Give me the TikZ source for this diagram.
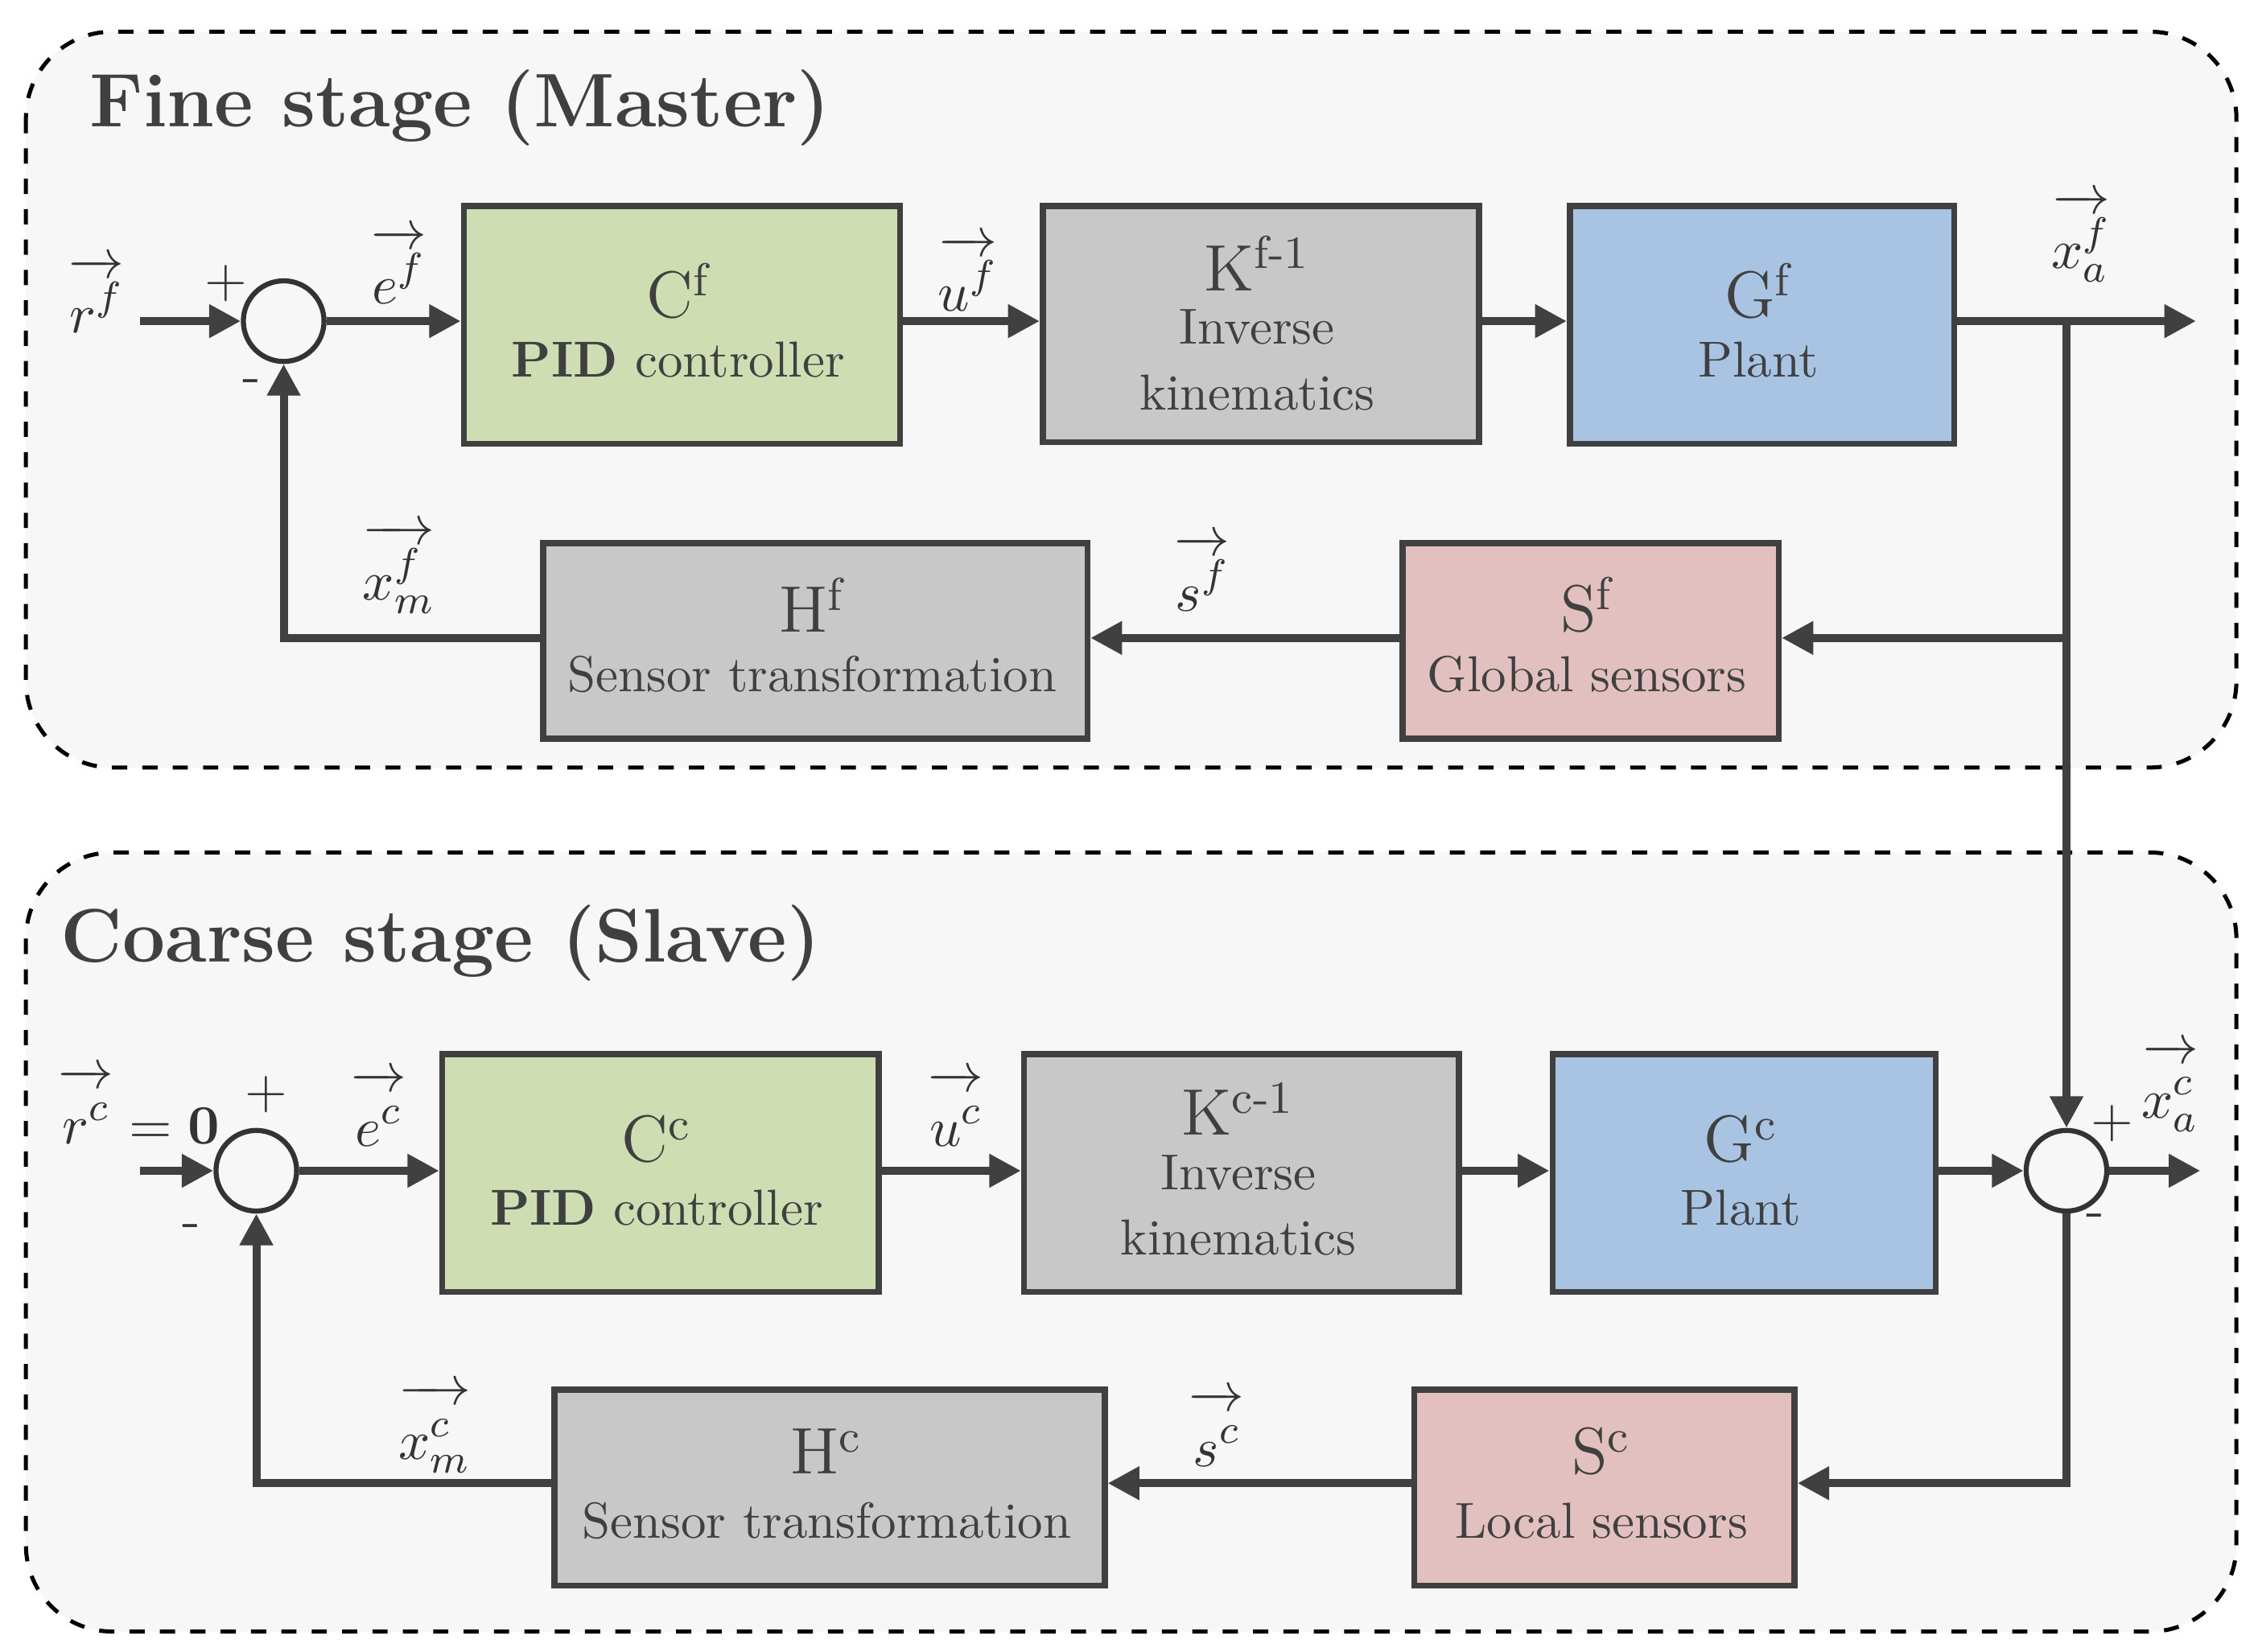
\documentclass[tikz,border=0pt]{standalone}
\usetikzlibrary{arrows.meta}
\newcommand{\va}[1]{\overrightarrow{#1\rule{0pt}{2.5ex}}}
\begin{document}
\begin{tikzpicture}[x=0.1mm,y=-0.1mm,
  txt/.style={text=black!75},
  stage/.style={draw=black,dashed,line width=0.8pt,rounded corners=6mm,fill=black!3},
  blk/.style={draw=black!75,line width=1.2pt,anchor=north west,inner sep=0pt,align=center,text=black!75},
  sum/.style={draw=black!80,circle,line width=1pt,minimum size=5.6mm,inner sep=0pt},
  con/.style={draw=black!75,line width=1.6pt},
  arr/.style={con,-{Triangle[length=2.2mm,width=2.2mm]}},
  lbl/.style={text=black!80,font=\fontsize{11}{13}\selectfont},
  big/.style={txt,font=\fontsize{13}{15}\selectfont},
  sm/.style={txt,font=\fontsize{10}{13}\selectfont,align=center},
  ttl/.style={anchor=west,text=black!75,font=\fontsize{15}{18}\selectfont\bfseries}]
\useasboundingbox (0,0) rectangle (1568,1147);
\definecolor{cgreen}{HTML}{CFDDB3}
\definecolor{cgray}{HTML}{C9C8C9}
\definecolor{cblue}{HTML}{A9C4E2}
\definecolor{cpink}{HTML}{E2C0C0}
\draw[stage] (18,22) rectangle (1553,533);
\draw[stage] (18,592) rectangle (1553,1133);
\node[ttl] (t1) at (50,75) {Fine stage (Master)};
\node[ttl] (t2) at (30,655) {Coarse stage (Slave)};
% ---- fine
\node[blk,fill=cgreen,minimum width=30.3mm,minimum height=16.5mm] (Cf) at (320,141) {};
\node[big] (Cft) at (471,202) {C\textsuperscript{f}};
\node[sm] (Cfb) at (471,250) {\textbf{PID} controller};
\node[blk,fill=cgray,minimum width=30.3mm,minimum height=16.4mm] (Kf) at (722,141) {};
\node[big] (Kft) at (873,183) {K\textsuperscript{f-1}};
\node[sm] (Kfb) at (873,250) {Inverse\\kinematics};
\node[blk,fill=cblue,minimum width=26.7mm,minimum height=16.5mm] (Gf) at (1088,141) {};
\node[big] (Gft) at (1221,202) {G\textsuperscript{f}};
\node[sm] (Gfb) at (1221,250) {Plant};
\node[blk,fill=cpink,minimum width=26.1mm,minimum height=13.6mm] (Sf) at (972,375) {};
\node[big] (Sft) at (1102,420) {S\textsuperscript{f}};
\node[sm] (Sfb) at (1102,468) {Global sensors};
\node[blk,fill=cgray,minimum width=37.8mm,minimum height=13.6mm] (Hf) at (375,375) {};
\node[big] (Hft) at (564,420) {H\textsuperscript{f}};
\node[sm] (Hfb) at (564,468) {Sensor transformation};
\node[sum] (s1) at (197,223) {};
\coordinate (in1) at (97,223);
\coordinate (out1) at (1525,223);
\coordinate (j1) at (1435,223);
\coordinate (j2) at (1435,443);
\coordinate (fb1) at (197,443);
\draw[arr] (in1) -- (s1);
\draw[arr] (s1) -- (s1 -| Cf.west);
\draw[arr] (Cf.east |- s1) -- (Kf.west |- s1);
\draw[arr] (Kf.east |- s1) -- (Gf.west |- s1);
\draw[arr] (Gf.east |- s1) -- (out1);
\draw[arr] (j1) -- (j2) -- (Sf.east |- j2);
\draw[arr] (Sf.west |- j2) -- (Hf.east |- j2);
\draw[arr] (Hf.west |- j2) -- (fb1) -- (s1);
\node[lbl] (lr) at (67,205) {$\va{r^f}$};
\node[lbl] (le) at (277,185) {$\va{e^f}$};
\node[lbl] (lu) at (672,190) {$\va{u^f}$};
\node[lbl] (lxa) at (1445,165) {$\va{x_a^f}$};
\node[lbl] (ls) at (835,398) {$\va{s^f}$};
\node[lbl] (lxm) at (277,395) {$\va{x_m^f}$};
\node[lbl] (p1) at (157,197) {+};
\node[lbl] (m1) at (175,268) {-};
% ---- coarse
\node[blk,fill=cgreen,minimum width=30.3mm,minimum height=16.5mm] (Cc) at (305,730) {};
\node[big] (Cct) at (456,791) {C\textsuperscript{c}};
\node[sm] (Ccb) at (456,839) {\textbf{PID} controller};
\node[blk,fill=cgray,minimum width=30.2mm,minimum height=16.5mm] (Kc) at (709,730) {};
\node[big] (Kct) at (860,770) {K\textsuperscript{c-1}};
\node[sm] (Kcb) at (860,837) {Inverse\\kinematics};
\node[blk,fill=cblue,minimum width=26.6mm,minimum height=16.5mm] (Gc) at (1076,730) {};
\node[big] (Gct) at (1209,791) {G\textsuperscript{c}};
\node[sm] (Gcb) at (1209,839) {Plant};
\node[blk,fill=cpink,minimum width=26.4mm,minimum height=13.6mm] (Sc) at (980,963) {};
\node[big] (Sct) at (1112,1008) {S\textsuperscript{c}};
\node[sm] (Scb) at (1112,1056) {Local sensors};
\node[blk,fill=cgray,minimum width=38.2mm,minimum height=13.6mm] (Hc) at (383,963) {};
\node[big] (Hct) at (574,1008) {H\textsuperscript{c}};
\node[sm] (Hcb) at (574,1056) {Sensor transformation};
\node[sum] (s2) at (178,813) {};
\node[sum] (s3) at (1435,813) {};
\coordinate (in2) at (97,813);
\coordinate (out2) at (1528,813);
\coordinate (j3) at (1435,1030);
\coordinate (fb2) at (178,1030);
\draw[arr] (in2) -- (s2);
\draw[arr] (s2) -- (s2 -| Cc.west);
\draw[arr] (Cc.east |- s2) -- (Kc.west |- s2);
\draw[arr] (Kc.east |- s2) -- (Gc.west |- s2);
\draw[arr] (Gc.east |- s2) -- (s3);
\draw[arr] (s3) -- (out2);
\draw[arr] (j2) -- (s3);
\draw[arr] (s3) -- (j3) -- (Sc.east |- j3);
\draw[arr] (Sc.west |- j3) -- (Hc.east |- j3);
\draw[arr] (Hc.west |- j3) -- (fb2) -- (s2);
\node[lbl,anchor=west,inner sep=0pt] (lrc) at (40,768) {$\va{r^c}=\mathbf{0}$};
\node[lbl] (lec) at (263,770) {$\va{e^c}$};
\node[lbl] (luc) at (664,770) {$\va{u^c}$};
\node[lbl] (lxac) at (1507,755) {$\va{x_a^c}$};
\node[lbl] (lsc) at (845,992) {$\va{s^c}$};
\node[lbl] (lxmc) at (302,992) {$\va{x_m^c}$};
\node[lbl] (p2) at (185,760) {+};
\node[lbl] (m2) at (133,855) {-};
\node[lbl] (p3) at (1467,780) {+};
\node[lbl] (m3) at (1455,848) {-};
\end{tikzpicture}
\end{document}
